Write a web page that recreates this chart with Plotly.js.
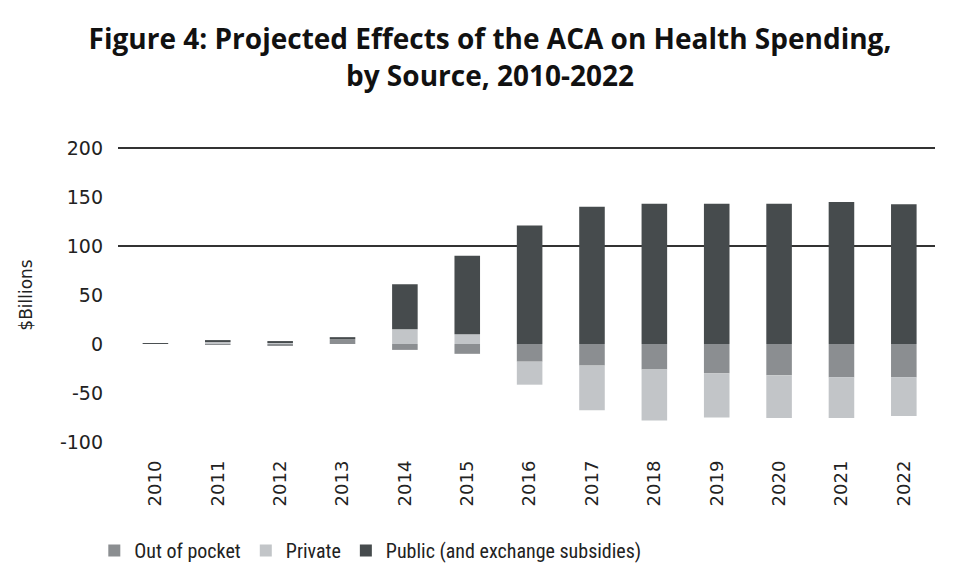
<!DOCTYPE html>
<html>
<head>
<meta charset="utf-8">
<script src="https://cdn.plot.ly/plotly-3.0.1.min.js"></script>
<style>html,body{margin:0;padding:0;background:#fff;}#chart{width:980px;height:586px;}</style>
</head>
<body>
<div id="chart"></div>
<script>
const years = ['2010','2011','2012','2013','2014','2015','2016','2017','2018','2019','2020','2021','2022'];
const outOfPocket = [0, -1, -2, 5, -6, -10, -18, -22, -26, -30, -32, -34, -34];
const privateSpending = [0, 2, 1, 0, 15, 10, -23.5, -45.5, -52, -45, -43.5, -41.5, -39.5];
const publicSpending = [1, 2, 2, 2, 46, 80, 121, 140, 143, 143, 143, 145, 142.5];
const seriesNames = ['Out of pocket', 'Private', 'Public (and exchange subsidies)'];
const yTicks = [-100, -50, 0, 50, 100, 150, 200];
const gridTicks = [100, 200];

const colors = ['#8b8e91', '#c2c5c8', '#464b4d'];
const series = [outOfPocket, privateSpending, publicSpending];
const data = series.map((vals, i) => ({
  type: 'bar', x: years, y: vals, name: seriesNames[i],
  marker: {color: colors[i], line: {width: 0}},
  hoverinfo: 'x+y+name'
}));
// invisible trace to carry the gridline axis
data.push({type: 'scatter', x: [years[0]], y: [0], yaxis: 'y2', mode: 'markers',
  marker: {opacity: 0}, showlegend: false, hoverinfo: 'skip'});

const layout = {
  width: 980, height: 586,
  paper_bgcolor: '#fff', plot_bgcolor: 'rgba(0,0,0,0)',
  margin: {l: 118, r: 45, t: 146, b: 142},
  barmode: 'relative', bargap: 0.59,
  title: {
    text: '<b>Figure 4: Projected Effects of the ACA on Health Spending,<br>by Source, 2010-2022</b>',
    font: {family: 'Open Sans, sans-serif', size: 28, color: '#111'},
    x: 0.5, xanchor: 'center', y: 0.916, yanchor: 'middle'
  },
  xaxis: {
    type: 'category', range: [-0.6, 12.5],
    tickangle: -90, ticks: '', showgrid: false, zeroline: false, showline: false,
    ticklabelstandoff: 12,
    tickfont: {family: 'DejaVu Sans, sans-serif', size: 18, color: '#222'}
  },
  yaxis: {
    range: [-102, 202], tickvals: yTicks, ticktext: yTicks.map(String),
    showgrid: false, zeroline: false, showline: false, ticks: '',
    ticklabelstandoff: 14,
    tickfont: {family: 'DejaVu Sans, sans-serif', size: 19, color: '#222'},
    title: {text: '$Billions', standoff: 22, font: {family: 'DejaVu Sans, sans-serif', size: 17, color: '#222'}}
  },
  yaxis2: {
    overlaying: 'y', side: 'left', range: [-102, 202], tickvals: gridTicks,
    showticklabels: false, showgrid: true, gridcolor: '#333', gridwidth: 1.3,
    zeroline: false, showline: false, ticks: ''
  },
  showlegend: true,
  legend: {
    orientation: 'h', x: -0.029, xanchor: 'left', y: -0.357, yanchor: 'middle',
    font: {family: 'Liberation Sans Narrow, Roboto Condensed, Arial Narrow, sans-serif', size: 20, color: '#222'},
    traceorder: 'normal', itemwidth: 30, tracegroupgap: 0
  }
};

Plotly.newPlot('chart', data, layout, {displayModeBar: false, staticPlot: true});
</script>
</body>
</html>
